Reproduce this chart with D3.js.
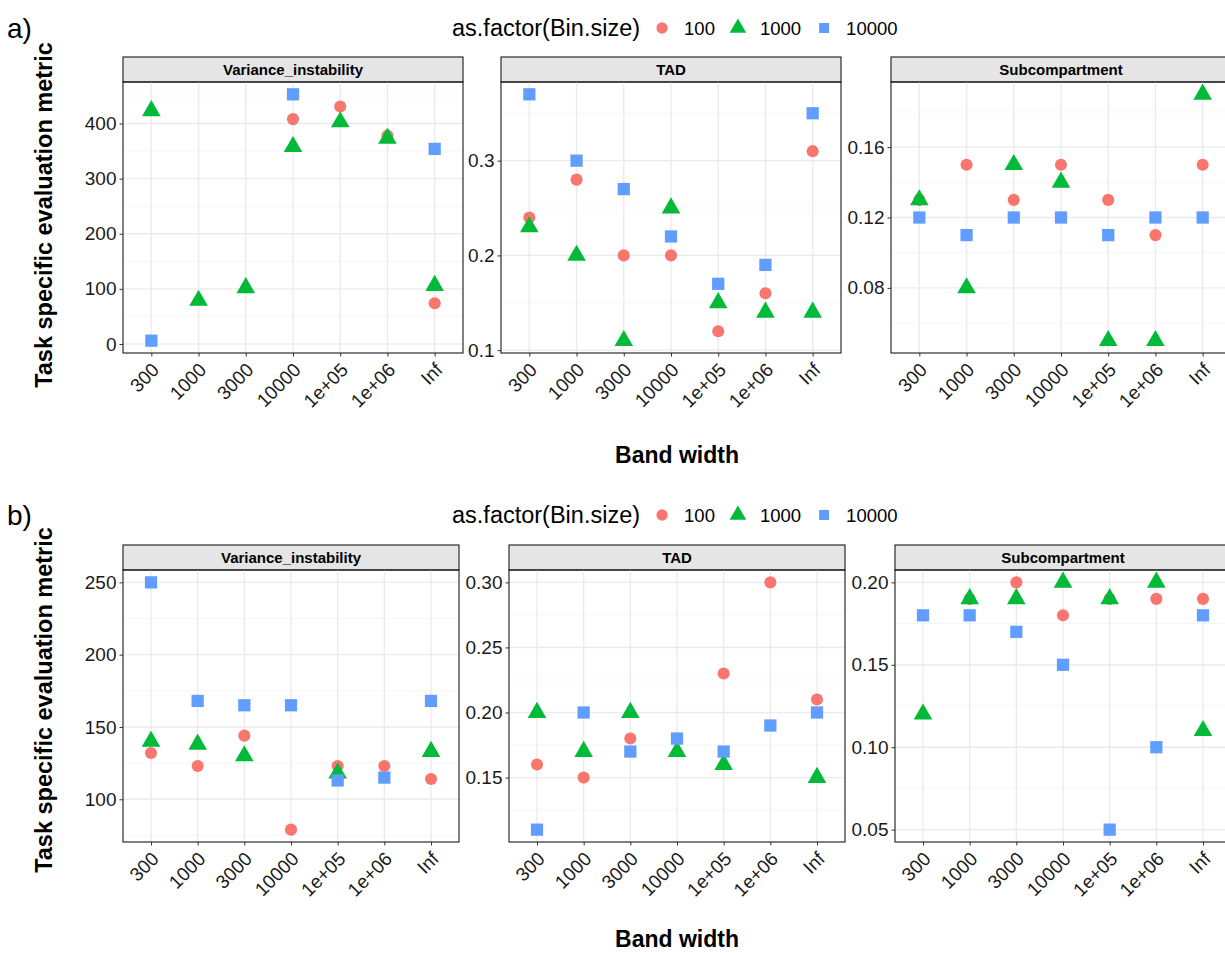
<!DOCTYPE html>
<html>
<head>
<meta charset="utf-8">
<script src="https://cdnjs.cloudflare.com/ajax/libs/d3/7.8.5/d3.min.js"></script>
<style>
  body { margin: 0; background: white; }
  svg { display: block; font-family: "Liberation Sans", Arial, Helvetica, sans-serif; }
</style>
</head>
<body>
<div id="chart"></div>
<script>
// chart values (null = point not visible)
const bandWidths = ["300", "1000", "3000", "10000", "1e+05", "1e+06", "Inf"];
const binSizes = ["100", "1000", "10000"];
const metricNames = ["Variance_instability", "TAD", "Subcompartment"];
const binColors = ["#F8766D", "#00BA38", "#619CFF"];

// a) values
const aVariance100 = [null, null, null, 408, 431, 378, 74];
const aVariance1000 = [423, 79, 102, 358, 403, 373, 106];
const aVariance10000 = [6, null, null, 453, null, null, 354];
const aTad100 = [0.24, 0.28, 0.20, 0.20, 0.12, 0.16, 0.31];
const aTad1000 = [0.23, 0.20, 0.11, 0.25, 0.15, 0.14, 0.14];
const aTad10000 = [0.37, 0.30, 0.27, 0.22, 0.17, 0.19, 0.35];
const aSub100 = [0.13, 0.15, 0.13, 0.15, 0.13, 0.11, 0.15];
const aSub1000 = [0.13, 0.08, 0.15, 0.14, 0.05, 0.05, 0.19];
const aSub10000 = [0.12, 0.11, 0.12, 0.12, 0.11, 0.12, 0.12];

// b) values
const bVariance100 = [132, 123, 144, 79, 123, 123, 114];
const bVariance1000 = [140, 138, 130, null, 118, null, 133];
const bVariance10000 = [250, 168, 165, 165, 113, 115, 168];
const bTad100 = [0.16, 0.15, 0.18, null, 0.23, 0.30, 0.21];
const bTad1000 = [0.20, 0.17, 0.20, 0.17, 0.16, null, 0.15];
const bTad10000 = [0.11, 0.20, 0.17, 0.18, 0.17, 0.19, 0.20];
const bSub100 = [null, 0.19, 0.20, 0.18, 0.19, 0.19, 0.19];
const bSub1000 = [0.12, 0.19, 0.19, 0.20, 0.19, 0.20, 0.11];
const bSub10000 = [0.18, 0.18, 0.17, 0.15, 0.05, 0.10, 0.18];

// y tick labels for each panel
const aVarianceTicks = ["0", "100", "200", "300", "400"];
const aTadTicks = ["0.1", "0.2", "0.3"];
const aSubTicks = ["0.08", "0.12", "0.16"];
const bVarianceTicks = ["100", "150", "200", "250"];
const bTadTicks = ["0.15", "0.20", "0.25", "0.30"];
const bSubTicks = ["0.05", "0.10", "0.15", "0.20"];

const width = 1225;
const height = 953;
const shapes = [d3.symbolCircle, d3.symbolTriangle, d3.symbolSquare];
const shapeSizes = [115, 150, 150];

var svg = d3.select("#chart").append("svg")
  .attr("width", width)
  .attr("height", height);

function drawLegend(y) {
  var g = svg.append("g");
  var title = g.append("text")
    .attr("x", 452).attr("y", y + 8)
    .style("font-size", "23.5px")
    .text("as.factor(Bin.size)");
  var x = 452 + title.node().getComputedTextLength() + 22;
  binSizes.forEach(function(bin, i) {
    g.append("path")
      .attr("transform", "translate(" + x + "," + y + ")")
      .attr("d", d3.symbol().type(shapes[i]).size(i == 1 ? 120 : 100)())
      .attr("fill", binColors[i]);
    var label = g.append("text")
      .attr("x", x + 22).attr("y", y + 7)
      .style("font-size", "18.5px")
      .text(bin);
    x = x + 22 + label.node().getComputedTextLength() + 23;
  });
}

function drawPanel(left, top, panelWidth, panelBottom, name, series, ticks) {
  var stripHeight = 25;
  var g = svg.append("g");

  // strip
  g.append("rect")
    .attr("x", left).attr("y", top)
    .attr("width", panelWidth).attr("height", stripHeight)
    .attr("fill", "#e5e5e5")
    .attr("stroke", "#1a1a1a").attr("stroke-width", 1.1);
  g.append("text")
    .attr("x", left + panelWidth / 2).attr("y", top + 18)
    .attr("text-anchor", "middle")
    .style("font-size", "15px").style("font-weight", "bold")
    .text(name);

  var panelTop = top + stripHeight;
  var x = d3.scalePoint().domain(bandWidths)
    .range([left, left + panelWidth]).padding(0.6);

  // y domain with 5% expansion, like ggplot
  var all = [].concat(series[0], series[1], series[2]).filter(function(v) { return v != null; });
  var lo = d3.min(all), hi = d3.max(all);
  var pad = (hi - lo) * 0.05;
  var y = d3.scaleLinear().domain([lo - pad, hi + pad]).range([panelBottom, panelTop]);

  var tickValues = ticks.map(Number);
  var step = tickValues[1] - tickValues[0];
  var minors = [];
  for (var i = -1; i < tickValues.length; i++) {
    var m = tickValues[0] + step * (i + 0.5);
    if (m > y.domain()[0] && m < y.domain()[1]) minors.push(m);
  }

  // grid
  g.selectAll(".minor").data(minors).enter().append("line")
    .attr("x1", left).attr("x2", left + panelWidth)
    .attr("y1", function(d) { return y(d); }).attr("y2", function(d) { return y(d); })
    .attr("stroke", "#f2f2f2").attr("stroke-width", 0.8);
  g.selectAll(".major").data(tickValues).enter().append("line")
    .attr("x1", left).attr("x2", left + panelWidth)
    .attr("y1", function(d) { return y(d); }).attr("y2", function(d) { return y(d); })
    .attr("stroke", "#ebebeb").attr("stroke-width", 1.4);
  g.selectAll(".vgrid").data(bandWidths).enter().append("line")
    .attr("x1", function(d) { return x(d); }).attr("x2", function(d) { return x(d); })
    .attr("y1", panelTop).attr("y2", panelBottom)
    .attr("stroke", "#ebebeb").attr("stroke-width", 1.4);

  // points, drawn 100 then 1000 then 10000
  series.forEach(function(values, s) {
    var pts = values
      .map(function(v, i) { return { band: bandWidths[i], value: v }; })
      .filter(function(d) { return d.value != null; });
    g.selectAll(".pt" + s).data(pts).enter()
      .append("path")
      .attr("transform", function(d) {
        return "translate(" + x(d.band) + "," + y(d.value) + ")";
      })
      .attr("d", d3.symbol().type(shapes[s]).size(shapeSizes[s])())
      .attr("fill", binColors[s]);
  });

  // panel border
  g.append("rect")
    .attr("x", left).attr("y", panelTop)
    .attr("width", panelWidth).attr("height", panelBottom - panelTop)
    .attr("fill", "none")
    .attr("stroke", "#1a1a1a").attr("stroke-width", 1.1);

  // y axis
  var yAxis = g.append("g")
    .attr("transform", "translate(" + left + ",0)")
    .call(d3.axisLeft(y).tickValues(tickValues).tickSize(3.5).tickPadding(3)
      .tickFormat(function(d, i) { return ticks[i]; }));
  yAxis.select(".domain").remove();
  yAxis.selectAll("line").attr("stroke", "#333333");
  yAxis.selectAll("text")
    .attr("fill", "#1a1a1a")
    .style("font-size", "19px")
    .style("font-family", "'Liberation Sans', Arial, sans-serif");

  // x axis with 45 degree labels
  var xAxis = g.append("g")
    .attr("transform", "translate(0," + panelBottom + ")")
    .call(d3.axisBottom(x).tickSize(3.5).tickFormat(""));
  xAxis.select(".domain").remove();
  xAxis.selectAll("line").attr("stroke", "#333333");
  g.selectAll(".xlab").data(bandWidths).enter().append("text")
    .attr("transform", function(d) {
      return "translate(" + (x(d) + 9) + "," + (panelBottom + 18) + ") rotate(-45)";
    })
    .attr("text-anchor", "end")
    .attr("fill", "#1a1a1a")
    .style("font-size", "19px")
    .text(function(d) { return d; });
}

function drawRow(label, legendY, stripTop, panelBottom, lefts, panelWidth, seriesList, tickList, yTitleY, xTitleY) {
  svg.append("text")
    .attr("x", 7).attr("y", legendY + 10)
    .style("font-size", "28px")
    .text(label);
  drawLegend(legendY);
  metricNames.forEach(function(name, i) {
    drawPanel(lefts[i], stripTop, panelWidth, panelBottom, name, seriesList[i], tickList[i]);
  });
  svg.append("text")
    .attr("transform", "translate(52," + yTitleY + ") rotate(-90)")
    .attr("text-anchor", "middle")
    .style("font-size", "23.5px").style("font-weight", "bold")
    .text("Task specific evaluation metric");
  svg.append("text")
    .attr("x", 677).attr("y", xTitleY)
    .attr("text-anchor", "middle")
    .style("font-size", "23px").style("font-weight", "bold")
    .text("Band width");
}

drawRow("a)", 28, 57, 353, [123, 501, 891], 340,
  [[aVariance100, aVariance1000, aVariance10000],
   [aTad100, aTad1000, aTad10000],
   [aSub100, aSub1000, aSub10000]],
  [aVarianceTicks, aTadTicks, aSubTicks], 215, 463);

drawRow("b)", 515, 545, 842, [123, 509, 895], 336,
  [[bVariance100, bVariance1000, bVariance10000],
   [bTad100, bTad1000, bTad10000],
   [bSub100, bSub1000, bSub10000]],
  [bVarianceTicks, bTadTicks, bSubTicks], 700, 947);
</script>
</body>
</html>
